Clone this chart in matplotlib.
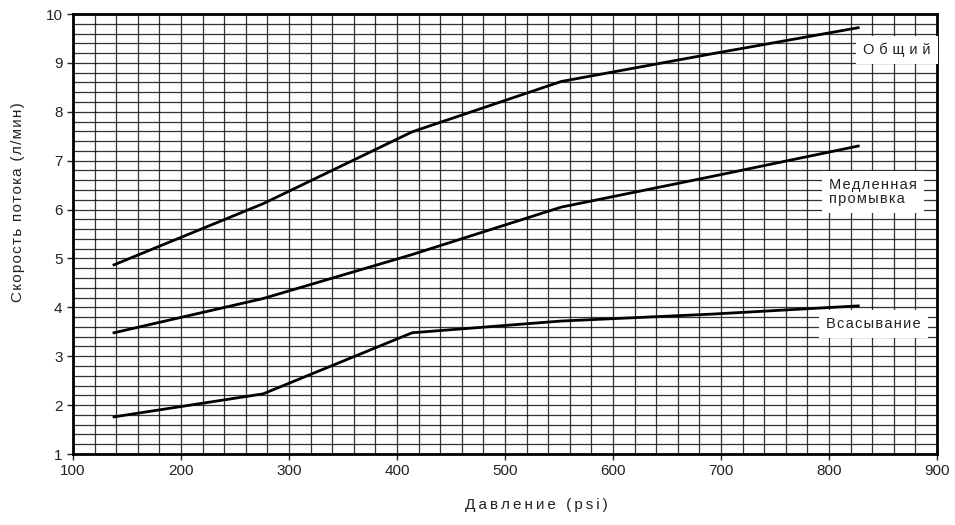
import numpy as np
import matplotlib
matplotlib.use("Agg")
import matplotlib.pyplot as plt

plt.rcParams['font.family'] = ['Liberation Sans', 'DejaVu Sans']

# давление, psi
pressure = [138, 276, 414, 552, 690, 827]

# скорость потока, л/мин
total = [4.87, 6.12, 7.59, 8.62, 9.18, 9.72]
slow_rinse = [3.48, 4.18, 5.08, 6.05, 6.67, 7.30]
suction = [1.76, 2.23, 3.48, 3.72, 3.86, 4.03]

series_names = ["Общий", "Медленная\nпромывка", "Всасывание"]


def spaced(s, gap):
    # разрядка букв, как в оригинале
    return "\n".join(gap.join(line) for line in s.split("\n"))


fig = plt.figure(figsize=(9.55, 5.25), dpi=100)
ax = fig.add_axes([0.0764, 0.1352, 0.9048, 0.8381])

ax.set_xlim(100, 900)
ax.set_ylim(1, 10)
ax.set_xticks(np.arange(100, 901, 100))
ax.set_yticks(np.arange(1, 11, 1))
ax.set_xticks(np.arange(100, 901, 20), minor=True)
ax.set_yticks(np.arange(1, 10.01, 0.2), minor=True)

# сетка
ax.grid(True, which='both', color='black', linewidth=0.9, alpha=0.8)
ax.set_axisbelow(True)
ax.tick_params(which='minor', length=0)
ax.tick_params(which='major', direction='out', length=4, width=1,
               labelsize=11, colors='#222222')

for sp in ax.spines.values():
    sp.set_linewidth(2)

for y in (total, slow_rinse, suction):
    ax.plot(pressure, y, color='black', linewidth=2, zorder=3)

box = dict(facecolor='white', edgecolor='none', pad=5)
ax.text(863, 9.26, spaced(series_names[0], '\u2004'), fontsize=10.5,
        ha='center', va='center', color='#222222', zorder=4, bbox=box)
ax.text(800, 6.36, spaced(series_names[1], '\u200a'), fontsize=10.5,
        ha='left', va='center', color='#222222', linespacing=1.05,
        zorder=4, bbox=box)
ax.text(841, 3.66, spaced(series_names[2], '\u200a'), fontsize=10.5,
        ha='center', va='center', color='#222222', zorder=4, bbox=box)

fig.text(536 / 955, 1 - 505 / 525, spaced("Давление (psi)", '\u2009'),
         fontsize=11, ha='center', va='center', color='#222222')
fig.text(18 / 955, 1 - 202 / 525, spaced("Скорость потока (л/мин)", '\u200a'),
         fontsize=11, ha='center', va='center', rotation=90, color='#222222')

plt.savefig("out.png", dpi=100)
